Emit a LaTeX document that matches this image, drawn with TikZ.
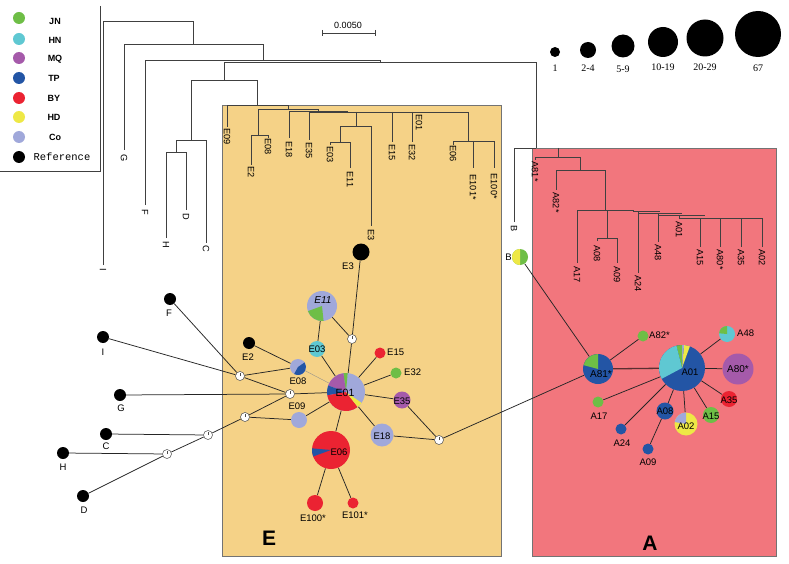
\documentclass[tikz,border=0pt]{standalone}
\usepackage{fontspec}
\setmainfont{Liberation Sans}
\newfontfamily\serfont{Liberation Serif}
\newfontfamily\monfont{Liberation Mono}
\definecolor{cJN}{HTML}{6EBE46}
\definecolor{cHN}{HTML}{5FC8D2}
\definecolor{cMQ}{HTML}{A55AAA}
\definecolor{cTP}{HTML}{2355A5}
\definecolor{cBY}{HTML}{EB2332}
\definecolor{cHD}{HTML}{EEE846}
\definecolor{cCo}{HTML}{A0A8DA}
\definecolor{cEbox}{HTML}{F5D287}
\definecolor{cAbox}{HTML}{F2767D}
\definecolor{cThick}{HTML}{5A2E30}
\pgfdeclarelayer{back}
\pgfdeclarelayer{edges}
\pgfsetlayers{back,edges,main}
\newcommand{\wedgefill}[5]{\fill[#5] (#1.center) -- ++(#3:#2) arc[start angle=#3, end angle=#4, radius=#2] -- cycle;}
\tikzset{
  tr/.style={line width=0.75pt, draw=black!75},
  tl/.style={font=\fontsize{9.2}{9}\selectfont, rotate=-90, anchor=west, inner sep=0.5pt},
  hap/.style={circle, inner sep=0pt, minimum size=#1},
  refn/.style={circle, fill=black, inner sep=0pt, minimum size=12pt},
  mv/.style={circle, draw=black!70, fill=white, line width=0.5pt, inner sep=0pt, minimum size=9pt},
  nl/.style={font=\fontsize{9.5}{10}\selectfont, inner sep=0pt},
  ed/.style={line width=0.75pt, draw=black!85},
  legt/.style={font=\bfseries\fontsize{9}{10}\selectfont, inner sep=0pt},
  legd/.style={circle, inner sep=0pt, minimum size=12pt},
  szd/.style={circle, fill=black, inner sep=0pt, minimum size=#1},
  szl/.style={font=\serfont\fontsize{10}{10}\selectfont, inner sep=0pt},
  boxst/.style={draw=black!55, line width=0.6pt},
}
\begin{document}
\begin{tikzpicture}[x=1pt,y=-1pt]
\useasboundingbox (0,0) rectangle (789,564);
% ---------- boxes ----------
\begin{pgfonlayer}{back}
\fill[white] (0,0) rectangle (789,564);
\path[boxst, fill=cEbox] (222,105) rectangle (501,556);
\path[boxst, fill=cAbox] (532,148) rectangle (776,556);
\end{pgfonlayer}
% ---------- legend ----------
\draw[tr] (100,6) -- (100,171) -- (0,171);
\node[legd, fill=cJN] (dJN) at (19,18) {};
\node[legd, fill=cHN] (dHN) at (19,39) {};
\node[legd, fill=cMQ] (dMQ) at (19,58) {};
\node[legd, fill=cTP] (dTP) at (19,78) {};
\node[legd, fill=cBY] (dBY) at (19,98) {};
\node[legd, fill=cHD] (dHD) at (19,117) {};
\node[legd, fill=cCo] (dCo) at (19,137) {};
\node[legd, fill=black] (dRef) at (19,157) {};
\node[legt] (tJN) at (55,21) {JN};
\node[legt] (tHN) at (55,40) {HN};
\node[legt] (tMQ) at (55,59) {MQ};
\node[legt] (tTP) at (54,78) {TP};
\node[legt] (tBY) at (54,98) {BY};
\node[legt] (tHD) at (54,117) {HD};
\node[legt] (tCo) at (55,137) {Co};
\node[legt, font=\monfont\fontsize{10.5}{10}\selectfont] (tRef) at (62,157) {Reference};
% ---------- scale bar ----------
\coordinate (sb1) at (322,33); \coordinate (sb2) at (375,33);
\draw[tr] (sb1) -- (sb2);
\draw[tr] ([yshift=3pt]sb1) -- ([yshift=-3pt]sb1);
\draw[tr] ([yshift=3pt]sb2) -- ([yshift=-3pt]sb2);
\node[nl, font=\fontsize{9}{9}\selectfont] (sbl) at (348,25) {0.0050};
% ---------- size legend ----------
\node[szd=10pt] (s1) at (555,52) {};
\node[szd=16pt] (s2) at (588,50) {};
\node[szd=23pt] (s3) at (623,46) {};
\node[szd=30pt] (s4) at (663,42) {};
\node[szd=37pt] (s5) at (705,38) {};
\node[szd=46pt] (s6) at (758,34) {};
\node[szl] (l1) at (555,68) {1};
\node[szl] (l2) at (588,68) {2-4};
\node[szl] (l3) at (623,69) {5-9};
\node[szl] (l4) at (663,67) {10-19};
\node[szl] (l5) at (705,67) {20-29};
\node[szl] (l6) at (758,68) {67};
% ---------- tree ----------
\draw[tr] (103,265) -- (103,21) -- (193,21) -- (193,44);
\draw[tr] (124,150) -- (124,44) -- (263,44) -- (263,60);
\draw[tr] (145,205) -- (145,60) -- (380,60) -- (380,62);
\draw[tr] (224,80) -- (224,62) -- (536,62) -- (536,148);
\draw[tr] (191,140) -- (191,80) -- (257,80) -- (257,105);
\draw[tr] (176,152) -- (176,140) -- (206,140) -- (206,243);
\draw[tr] (166,238) -- (166,152) -- (186,152) -- (186,210);
% E subtree
\draw[tr] (227,127) -- (227,105) -- (288,105) -- (288,109);
\draw[tr] (258,135) -- (258,109) -- (318,109) -- (318,111);
\draw[tr] (251,165) -- (251,135) -- (268,135) -- (268,138);
\draw[tr] (289,138) -- (289,111) -- (348,111);
\draw[tr] (309,140) -- (309,112) -- (468,112) -- (468,141);
\draw[tr] (356,112) -- (356,126);
\draw[tr] (340,142) -- (340,126) -- (371,126) -- (371,226);
\draw[tr] (330,145) -- (330,142) -- (350,142) -- (350,168);
\draw[tr] (392,112) -- (392,142);
\draw[tr] (412,112) -- (412,142);
\draw[tr] (453,145) -- (453,141) -- (494,141) -- (494,168);
\draw[tr] (473,141) -- (473,168);
% A subtree
\draw[tr] (514,222) -- (514,148) -- (536,148);
\draw[tr] (535,160) -- (535,157) -- (580,157);
\draw[tr] (558,148) -- (558,157);
\draw[tr] (580,157) -- (580,170);
\draw[tr] (556,190) -- (556,170) -- (605,170) -- (605,210);
\draw[tr] (577,263) -- (577,210) -- (633,210);
\draw[tr] (607,210) -- (607,238);
\draw[tr] (597,241) -- (597,238) -- (617,238) -- (617,263);
\draw[tr] (633,210) -- (633,211) -- (660,211);
\draw[tr] (638,211) -- (638,273);
\draw[tr] (638,213) -- (682,213);
\draw[tr] (658,213) -- (658,242);
\draw[tr] (658,215) -- (705,215);
\draw[tr] (679,215) -- (679,218) -- (762,218);
\draw[tr] (700,218) -- (700,247);
\draw[tr] (720,218) -- (720,247);
\draw[tr] (741,218) -- (741,247);
\draw[tr] (762,218) -- (762,247);
% tree labels
\node[tl] (tI) at (103,268) {I};
\node[tl] (tG) at (124,154) {G};
\node[tl] (tF) at (145,209) {F};
\node[tl] (tH) at (166,241) {H};
\node[tl] (tD) at (186,213) {D};
\node[tl] (tC) at (206,245) {C};
\node[tl] (tE09) at (227,128) {E09};
\node[tl] (tE08) at (268,138) {E08};
\node[tl] (tE2) at (251,166) {E2};
\node[tl] (tE18) at (289,141) {E18};
\node[tl] (tE35) at (309,142) {E35};
\node[tl] (tE03) at (330,146) {E03};
\node[tl] (tE11) at (350,171) {E11};
\node[tl] (tE3) at (371,229) {E3};
\node[tl] (tE15) at (392,144) {E15};
\node[tl] (tE32) at (412,144) {E32};
\node[tl] (tE01) at (419,114) {E01};
\node[tl] (tE06) at (453,145) {E06};
\node[tl] (tE101) at (473,174) {E101*};
\node[tl] (tE100) at (494,173) {E100*};
\node[tl] (tB) at (514,225) {B};
\node[tl] (tA81) at (535,161) {A81*};
\node[tl] (tA82) at (556,192) {A82*};
\node[tl] (tA17) at (577,266) {A17};
\node[tl] (tA08) at (597,245) {A08};
\node[tl] (tA09) at (617,266) {A09};
\node[tl] (tA24) at (638,275) {A24};
\node[tl] (tA48) at (658,244) {A48};
\node[tl] (tA01) at (679,221) {A01};
\node[tl] (tA15) at (700,249) {A15};
\node[tl] (tA80) at (720,249) {A80*};
\node[tl] (tA35) at (741,249) {A35};
\node[tl] (tA02) at (762,249) {A02};
% ---------- network nodes ----------
\node[refn] (F) at (170,299) {};
\node[refn] (I) at (103,337) {};
\node[refn] (G) at (120,395) {};
\node[refn] (C) at (106,434) {};
\node[refn] (H) at (63,453) {};
\node[refn] (D) at (83,496) {};
\node[refn] (E2) at (249,343) {};
\node[refn, minimum size=17pt] (E3) at (361,252) {};
\foreach \n/\p in {m1/{(240,376)}, m2/{(290,394)}, m3/{(245,417)}, m4/{(208,435)}, m5/{(167,454)}, m6/{(352,339)}, m7/{(439,440)}}{
  \node[mv] (\n) at \p {};
  \draw[black!70, line width=0.5pt] (\n.center) -- ++(0,-3.5);
}
\node[hap=30pt, fill=cCo] (E11) at (322,306) {};
\wedgefill{E11}{15pt}{200}{276}{cJN}
\node[hap=16pt, fill=cHN] (E03) at (317,349) {};
\node[hap=16pt, fill=cCo] (E08) at (298,367) {};
\wedgefill{E08}{8pt}{-119}{35}{cTP}
\node[hap=16pt, fill=cCo] (E09) at (299,420) {};
\node[hap=38pt, fill=cCo] (E01) at (346,392) {};
\wedgefill{E01}{19pt}{85}{98}{cJN}
\wedgefill{E01}{19pt}{98}{160}{cMQ}
\wedgefill{E01}{19pt}{160}{190}{cTP}
\wedgefill{E01}{19pt}{190}{308}{cBY}
\wedgefill{E01}{19pt}{308}{325}{cHD}
\node[hap=11pt, fill=cBY] (E15) at (380,353) {};
\node[hap=11pt, fill=cJN] (E32) at (396,373) {};
\node[hap=17pt, fill=cMQ] (E35) at (402,400) {};
\node[hap=23pt, fill=cCo] (E18) at (382,435) {};
\node[hap=38pt, fill=cBY] (E06) at (331,450) {};
\wedgefill{E06}{19pt}{175}{200}{cTP}
\node[hap=16pt, fill=cBY] (E100) at (315,503) {};
\node[hap=11pt, fill=cBY] (E101) at (353,503) {};
\node[hap=16pt, fill=cJN] (B) at (520,257) {};
\wedgefill{B}{8pt}{90}{270}{cHD}
\node[hap=30pt, fill=cTP] (A81) at (598,369) {};
\wedgefill{A81}{15pt}{90}{165}{cJN}
\node[hap=11pt, fill=cJN] (A82) at (643,336) {};
\node[hap=11pt, fill=cJN] (A17) at (598,402) {};
\node[hap=11pt, fill=cTP] (A24) at (621,429) {};
\node[hap=11pt, fill=cTP] (A09) at (648,449) {};
\node[hap=17pt, fill=cTP] (A08) at (665,411) {};
\node[hap=46pt, fill=cTP] (A01) at (682,368) {};
\wedgefill{A01}{23pt}{70}{85}{cHD}
\wedgefill{A01}{23pt}{85}{90}{cCo}
\wedgefill{A01}{23pt}{90}{104}{cJN}
\wedgefill{A01}{23pt}{104}{208}{cHN}
\node[hap=16pt, fill=cHN] (A48) at (727,334) {};
\wedgefill{A48}{8pt}{90}{175}{cJN}
\node[hap=31pt, fill=cMQ] (A80) at (738,369) {};
\node[hap=16pt, fill=cBY] (A35) at (729,399) {};
\node[hap=16pt, fill=cJN] (A15) at (711,415) {};
\node[hap=23pt, fill=cHD] (A02) at (686,424) {};
\wedgefill{A02}{11.5pt}{90}{170}{cCo}
% ---------- network labels ----------
\node[nl] (lF) at (169,313) {F};
\node[nl] (lI) at (103,352) {I};
\node[nl] (lG) at (121,408) {G};
\node[nl] (lC) at (106,446) {C};
\node[nl] (lH) at (63,467) {H};
\node[nl] (lD) at (84,510) {D};
\node[nl] (lE2) at (248,357) {E2};
\node[nl] (lE3) at (348,266) {E3};
\node[nl, font=\itshape\fontsize{10}{10}\selectfont] (lE11) at (323,300) {E11};
\node[nl] (lE03) at (317,349) {E03};
\node[nl] (lE08) at (298,381) {E08};
\node[nl] (lE09) at (297,406) {E09};
\node[nl, font=\fontsize{10.5}{10}\selectfont] (lE01) at (345,393) {E01};
\node[nl, anchor=west] (lE15) at (387,352) {E15};
\node[nl, anchor=west] (lE32) at (404,372) {E32};
\node[nl] (lE35) at (402,401) {E35};
\node[nl] (lE18) at (382,436) {E18};
\node[nl] (lE06) at (339,452) {E06};
\node[nl] (lE100) at (313,518) {E100*};
\node[nl] (lE101) at (355,515) {E101*};
\node[nl, anchor=east] (lB) at (512,257) {B};
\node[nl, font=\fontsize{10}{10}\selectfont] (lA81) at (601,374) {A81*};
\node[nl, anchor=west] (lA82) at (649,335) {A82*};
\node[nl] (lA17) at (599,416) {A17};
\node[nl] (lA24) at (622,443) {A24};
\node[nl] (lA09) at (648,462) {A09};
\node[nl] (lA08) at (665,411) {A08};
\node[nl] (lA01) at (690,372) {A01};
\node[nl, anchor=west] (lA48) at (737,333) {A48};
\node[nl, font=\fontsize{10}{10}\selectfont] (lA80) at (738,369) {A80*};
\node[nl] (lA35) at (729,400) {A35};
\node[nl] (lA15) at (711,416) {A15};
\node[nl] (lA02) at (686,426) {A02};
\node[font=\bfseries\fontsize{21}{21}\selectfont, inner sep=0pt] (bigE) at (269,538) {E};
\node[font=\bfseries\fontsize{21}{21}\selectfont, inner sep=0pt] (bigA) at (650,543) {A};
% ---------- network edges ----------
\begin{pgfonlayer}{edges}
\draw[ed] (F) -- (m1);
\draw[ed] (I) -- (m1);
\draw[ed] (m1) -- (E08);
\draw[ed] (m1) -- (m2);
\draw[ed] (E2) -- (E08);
\draw[ed] (G) -- (m2);
\draw[ed] (m2) -- (E01);
\draw[ed] (m2) -- (m3);
\draw[ed] (m3) -- (m4);
\draw[ed] (m4) -- (m5);
\draw[ed] (m5) -- (D);
\draw[ed] (C) -- (m4);
\draw[ed] (H) -- (m5);
\draw[ed] (m3) -- (E09);
\draw[ed] (E09) -- (E01);
\draw[line width=0.35pt, draw=black!45] (E08) -- (E01);
\draw[ed] (E03) -- (E01);
\draw[ed] (E03) -- (E11);
\draw[ed] (E11) -- (m6);
\draw[ed] (m6) -- (E3);
\draw[ed] (m6) -- (E01);
\draw[ed] (E15) -- (E01);
\draw[ed] (E32) -- (E01);
\draw[ed] (E35) -- (E01);
\draw[ed] (E18) -- (E01);
\draw[ed] (E06) -- (E01);
\draw[ed] (E06) -- (E100);
\draw[ed] (E06) -- (E101);
\draw[ed] (E35) -- (m7);
\draw[ed] (E18) -- (m7);
\draw[ed] (m7) -- (A81);
\draw[ed] (B) -- (A81);
\draw[ed] (A81) -- (A82);
\draw[line width=1.3pt, draw=cThick] (A81) -- (A01);
\draw[ed] (A17) -- (A01);
\draw[ed] (A24) -- (A01);
\draw[ed] (A08) -- (A01);
\draw[ed] (A09) -- (A08);
\draw[ed] (A02) -- (A01);
\draw[ed] (A15) -- (A01);
\draw[ed] (A35) -- (A01);
\draw[ed] (A80) -- (A01);
\draw[ed] (A48) -- (A01);
\end{pgfonlayer}
\end{tikzpicture}
\end{document}
